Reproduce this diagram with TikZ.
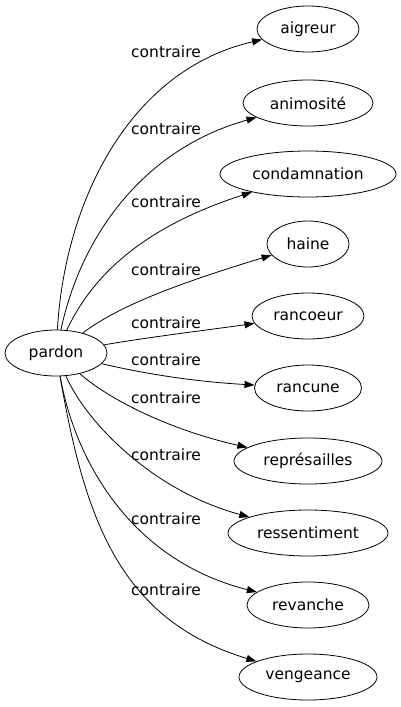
\documentclass[tikz,border=0pt]{standalone}
\usepackage{fontspec}
\setmainfont{DejaVu Sans}
\usetikzlibrary{shapes.geometric,arrows.meta}

\begin{document}
\begin{tikzpicture}[x=1pt, y=-1pt, >={Triangle[length=10pt,width=7pt]}, line width=0.8pt]
  \tikzstyle{word}=[draw, ellipse, inner sep=0pt, minimum height=46pt,
    font=\fontsize{15.5}{18}\selectfont]
  \tikzstyle{rel}=[font=\fontsize{15.5}{18}\selectfont]
  \useasboundingbox (0,0) rectangle (401,707);

  % Left: the word itself
  \node[word, minimum width=102pt] (pardon) at (56, 353) {pardon};

  % Right: its opposites
  \node[word, minimum width=102pt] (aigreur)  at (308, 29)  {aigreur};
  \node[word, minimum width=130pt] (animosite) at (308, 103) {animosité};
  \node[word, minimum width=176pt] (condamnation) at (308, 174) {condamnation};
  \node[word, minimum width=82pt]  (haine)    at (308, 244) {haine};
  \node[word, minimum width=112pt] (rancoeur) at (308, 316) {rancoeur};
  \node[word, minimum width=107pt] (rancune)  at (308, 388) {rancune};
  \node[word, minimum width=148pt] (represailles) at (308, 461) {représailles};
  \node[word, minimum width=160pt] (ressentiment) at (308, 533) {ressentiment};
  \node[word, minimum width=122pt] (revanche) at (308, 605) {revanche};
  \node[word, minimum width=138pt] (vengeance) at (308, 677) {vengeance};

  % Edge labels
  \node[rel] (c1)  at (166, 52)  {contraire};
  \node[rel] (c2)  at (166, 129) {contraire};
  \node[rel] (c3)  at (166, 202) {contraire};
  \node[rel] (c4)  at (166, 270) {contraire};
  \node[rel] (c5)  at (166, 323) {contraire};
  \node[rel] (c6)  at (166, 360) {contraire};
  \node[rel] (c7)  at (166, 398) {contraire};
  \node[rel] (c8)  at (166, 455) {contraire};
  \node[rel] (c9)  at (166, 519) {contraire};
  \node[rel] (c10) at (166, 590) {contraire};

  \draw[->] (pardon) .. controls (65,200) and (130,70) .. (aigreur);
  \draw[->] (pardon) .. controls (80,240) and (140,150) .. (animosite);
  \draw[->] (pardon) .. controls (95,270) and (150,225) .. (condamnation);
  \draw[->] (pardon) .. controls (120,305) and (180,283) .. (haine);
  \draw[->] (pardon) .. controls (150,337) and (200,331) .. (rancoeur);
  \draw[->] (pardon) .. controls (150,375) and (200,382) .. (rancune);
  \draw[->] (pardon) .. controls (110,400) and (170,430) .. (represailles);
  \draw[->] (pardon) .. controls (85,420) and (150,490) .. (ressentiment);
  \draw[->] (pardon) .. controls (75,460) and (130,560) .. (revanche);
  \draw[->] (pardon) .. controls (85,520) and (120,620) .. (vengeance);
\end{tikzpicture}
\end{document}
